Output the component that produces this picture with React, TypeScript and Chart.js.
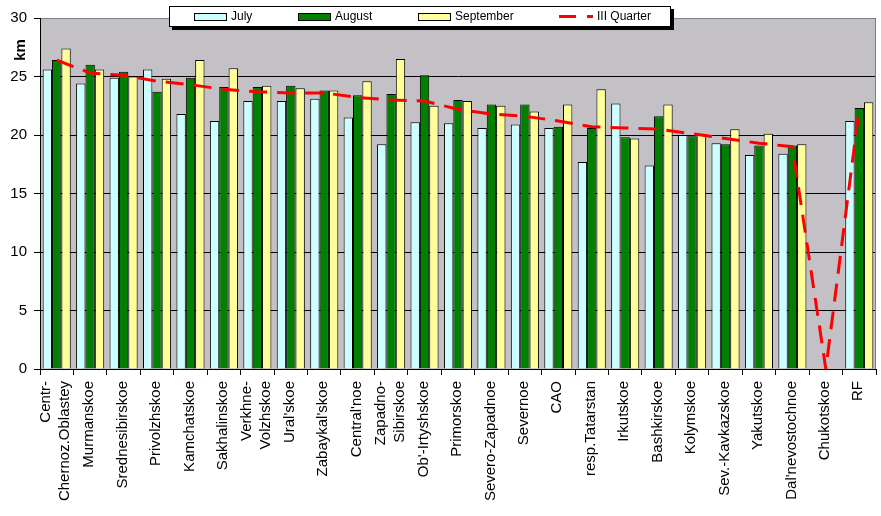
import React, { useEffect, useRef } from 'react';
import { Chart, registerables } from 'chart.js';

Chart.register(...registerables);

const categories: (string | string[])[] = [
  ['Centr-', 'Chernoz.Oblastey'], 'Murmanskoe', 'Srednesibirskoe', 'Privolzhskoe', 'Kamchatskoe',
  'Sakhalinskoe', ['Verkhne-', 'Volzhskoe'], "Ural'skoe", "Zabaykal'skoe", "Central'noe",
  ['Zapadno-', 'Sibirskoe'], "Ob'-Irtyshskoe", 'Primorskoe', 'Severo-Zapadnoe', 'Severnoe',
  'CAO', 'resp.Tatarstan', 'Irkutskoe', 'Bashkirskoe', 'Kolymskoe',
  'Sev.-Kavkazskoe', 'Yakutskoe', "Dal'nevostochnoe", 'Chukotskoe', 'RF',
];

const july = [25.6, 24.4, 24.9, 25.6, 21.8, 21.2, 22.9, 22.9, 23.1, 21.5, 19.2, 21.1, 21.0, 20.6, 20.9, 20.6, 17.7, 22.7, 17.4, 20.0, 19.3, 18.3, 18.4, null, 21.2];
const august = [26.4, 26.0, 25.4, 23.7, 24.9, 24.1, 24.1, 24.2, 23.8, 23.4, 23.5, 25.1, 23.0, 22.6, 22.6, 20.7, 20.6, 19.8, 21.6, 19.9, 19.2, 19.1, 19.1, null, 22.3];
const september = [27.4, 25.6, 25.0, 24.8, 26.4, 25.7, 24.2, 24.0, 23.8, 24.6, 26.5, 22.5, 22.9, 22.5, 22.0, 22.6, 23.9, 19.7, 22.6, 20.1, 20.5, 20.1, 19.2, null, 22.8];
const quarter = [26.4, 25.3, 25.1, 24.6, 24.3, 23.9, 23.7, 23.6, 23.6, 23.2, 23.0, 22.9, 22.2, 21.8, 21.6, 21.2, 20.7, 20.6, 20.5, 20.1, 19.7, 19.3, 19.0, 0, 22.3];

const yTicks = [0, 5, 10, 15, 20, 25, 30];

const FONT = "'Liberation Sans', Arial, sans-serif";
const PLOT_BG = '#C3C1C5';

const extrasPlugin = {
  id: 'extras',
  beforeDraw(chart: any) {
    const { ctx, chartArea: a } = chart;
    ctx.save();
    ctx.fillStyle = '#ffffff';
    ctx.fillRect(0, 0, chart.width, chart.height);
    ctx.fillStyle = PLOT_BG;
    ctx.fillRect(a.left, a.top, a.right - a.left, a.bottom - a.top);
    ctx.restore();
  },
  afterDraw(chart: any) {
    const { ctx, chartArea: a } = chart;
    ctx.save();
    // right border of plot area
    ctx.strokeStyle = '#808080';
    ctx.lineWidth = 1;
    ctx.beginPath();
    ctx.moveTo(Math.round(a.right) - 0.5, a.top);
    ctx.lineTo(Math.round(a.right) - 0.5, a.bottom);
    ctx.stroke();

    // category labels (rotated, reading upward)
    const xs = chart.scales.x;
    ctx.fillStyle = '#000';
    ctx.font = `15px ${FONT}`;
    ctx.textAlign = 'right';
    ctx.textBaseline = 'middle';
    categories.forEach((lab, i) => {
      const lines = Array.isArray(lab) ? lab : [lab];
      const cx = xs.getPixelForValue(i) - 1;
      lines.forEach((ln, j) => {
        const x = cx + (j - (lines.length - 1) / 2) * 19;
        ctx.save();
        ctx.translate(x, a.bottom + 12);
        ctx.rotate(-Math.PI / 2);
        ctx.fillText(ln, 0, 0);
        ctx.restore();
      });
    });

    // y axis title
    ctx.save();
    ctx.translate(21, 50);
    ctx.rotate(-Math.PI / 2);
    ctx.fillStyle = '#000';
    ctx.font = `bold 15px ${FONT}`;
    ctx.textAlign = 'center';
    ctx.textBaseline = 'middle';
    ctx.fillText('km', 0, 0);
    ctx.restore();

    // legend box with shadow
    const lx = 169, ly = 6, lw = 502, lh = 21;
    ctx.fillStyle = '#000';
    ctx.fillRect(lx + 3, ly + 3, lw, lh);
    ctx.fillStyle = '#fff';
    ctx.fillRect(lx, ly, lw, lh);
    ctx.strokeStyle = '#000';
    ctx.lineWidth = 1;
    ctx.strokeRect(lx + 0.5, ly + 0.5, lw - 1, lh - 1);

    const items = [
      { x: 194, color: '#CCFFFF', text: 'July' },
      { x: 298, color: '#008000', text: 'August' },
      { x: 418, color: '#FFFF99', text: 'September' },
    ];
    ctx.font = `12px ${FONT}`;
    ctx.textBaseline = 'middle';
    ctx.textAlign = 'left';
    for (const it of items) {
      ctx.fillStyle = it.color;
      ctx.fillRect(it.x, 13, 33, 8);
      ctx.strokeStyle = '#000';
      ctx.strokeRect(it.x + 0.5, 13.5, 32, 7);
      ctx.fillStyle = '#000';
      ctx.fillText(it.text, it.x + 37, 17);
    }
    ctx.strokeStyle = '#FF0000';
    ctx.lineWidth = 3;
    ctx.beginPath();
    ctx.moveTo(559, 16.5);
    ctx.lineTo(576, 16.5);
    ctx.moveTo(587, 16.5);
    ctx.lineTo(593, 16.5);
    ctx.stroke();
    ctx.fillStyle = '#000';
    ctx.fillText('III Quarter', 597, 17);
    ctx.restore();
  },
};

export default function App() {
  const ref = useRef<HTMLCanvasElement>(null);

  useEffect(() => {
    if (!ref.current) return;
    const chart = new Chart(ref.current, {
      type: 'bar',
      data: {
        labels: categories,
        datasets: [
          {
            type: 'line',
            label: 'III Quarter',
            data: quarter,
            borderColor: '#FF0000',
            borderWidth: 3,
            borderDash: [18, 10],
            pointRadius: 0,
            tension: 0,
            fill: false,
            order: 0,
          } as any,
          {
            label: 'July',
            data: july,
            backgroundColor: '#CCFFFF',
            borderColor: '#000',
            borderWidth: 1,
            order: 1,
          },
          {
            label: 'August',
            data: august,
            backgroundColor: '#008000',
            borderColor: '#000',
            borderWidth: 1,
            order: 2,
          },
          {
            label: 'September',
            data: september,
            backgroundColor: '#FFFF99',
            borderColor: '#000',
            borderWidth: 1,
            order: 3,
          },
        ],
      },
      options: {
        responsive: false,
        animation: false,
        devicePixelRatio: 1,
        layout: { padding: { top: 18, right: 5, left: 0, bottom: 0 } },
        datasets: {
          bar: { barPercentage: 1, categoryPercentage: 0.84 },
        },
        plugins: {
          legend: { display: false },
          tooltip: { enabled: false },
          title: { display: false },
        },
        scales: {
          x: {
            offset: true,
            afterFit: (s: any) => { s.height = 147; },
            grid: {
              offset: true,
              drawOnChartArea: false,
              drawTicks: true,
              tickLength: 6,
              tickColor: '#000',
              color: '#000',
            },
            border: { display: true, color: '#000', width: 1 },
            ticks: {
              display: false,
              autoSkip: false,
            },
          },
          y: {
            min: 0,
            max: 30,
            afterFit: (s: any) => { s.width = 40; },
            afterBuildTicks: (s: any) => { s.ticks = yTicks.map((v) => ({ value: v })); },
            grid: {
              color: (c: any) => (c.tick && c.tick.value === 30 ? '#808080' : '#000'),
              tickColor: '#000',
              tickLength: 6,
              drawTicks: true,
            },
            border: { display: true, color: '#000', width: 1 },
            ticks: {
              stepSize: 5,
              padding: 7,
              color: '#000',
              font: { family: FONT, size: 15 },
            },
          },
        },
      },
      plugins: [extrasPlugin],
    });
    return () => chart.destroy();
  }, []);

  return (
    <div style={{ position: 'absolute', left: 0, top: 0, width: 881, height: 516 }}>
      <canvas ref={ref} width={881} height={516} />
    </div>
  );
}
